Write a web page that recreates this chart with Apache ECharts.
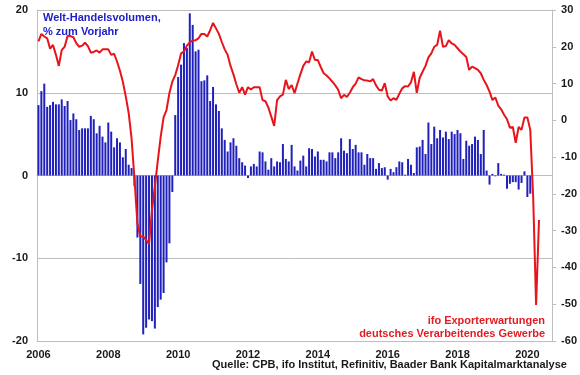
<!DOCTYPE html>
<html>
<head>
<meta charset="utf-8">
<script src="https://cdn.jsdelivr.net/npm/echarts@6/dist/echarts.min.js"></script>
<style>
  html, body { margin: 0; padding: 0; background: #fff; }
  #chart { width: 580px; height: 375px; }
</style>
</head>
<body>
<div id="chart"></div>
<script>
// monthly axis, Jan 2006 .. Sep 2020
const startYear = 2006;
const monthCount = 177;
const yearLabels = ['2006', '2008', '2010', '2012', '2014', '2016', '2018', '2020'];

// CPB world trade volume, % yoy (left axis), Jan 2006 ..
const tradeVolume = [
    8.5, 10.2, 11.1, 8.3, 8.5, 8.9, 8.6, 8.6, 9.2, 8.4, 9.0, 6.7,
    7.5, 6.8, 5.5, 5.7, 5.7, 5.7, 7.2, 6.8, 5.1, 6.0, 4.7, 4.0,
    6.4, 5.3, 3.4, 4.5, 4.0, 2.2, 3.2, 1.3, 0.9, -1.3, -7.5, -13.1,
    -19.2, -18.4, -17.4, -17.6, -18.5, -15.9, -15.0, -14.2, -10.5, -8.2, -2.0, 7.3,
    11.9, 13.4, 16.0, 15.4, 19.6, 18.2, 15.0, 15.2, 11.4, 11.5, 12.1, 9.0,
    10.7, 8.6, 7.8, 5.7, 4.3, 2.9, 4.0, 4.5, 3.6, 2.1, 1.6, 1.2,
    -0.3, 1.1, 1.4, 1.1, 2.9, 2.8, 1.7, 0.7, 2.1, 1.1, 1.7, 1.6,
    3.8, 2.0, 1.7, 3.7, 1.1, 0.6, 1.8, 2.4, 1.1, 3.3, 3.2, 2.3,
    2.9, 1.9, 1.9, 1.7, 2.8, 2.8, 2.1, 2.8, 4.5, 3.0, 2.7, 4.4,
    3.2, 3.7, 2.8, 2.8, 1.3, 2.6, 2.1, 2.1, 0.8, 1.5, 0.9, 1.0,
    -0.5, 0.8, 0.4, 1.0, 1.7, 1.6, 0.1, 2.0, 1.3, 0.3, 3.4, 3.5,
    4.3, 2.6, 6.4, 3.8, 5.9, 4.5, 5.5, 4.6, 5.3, 4.4, 5.3, 5.0,
    5.5, 5.1, 2.0, 4.2, 3.6, 3.8, 4.7, 4.3, 2.6, 5.5, 0.6, -1.1,
    0.2, -0.1, 1.5, 0.2, 0.1, -1.6, -1.0, -0.8, -0.8, -1.7, -0.9, 0.5,
    -2.6, -2.2
];

// ifo export expectations, manufacturing (right axis), Jan 2006 ..
const ifoExport = [
    21.5, 23.5, 22.8, 22.3, 19.5, 20.5, 17.8, 14.8, 19.1, 20.0, 22.9, 22.9,
    22.6, 21.0, 20.0, 20.3, 21.1, 20.2, 18.4, 18.6, 19.0, 18.4, 19.3, 19.3,
    19.3, 17.8, 18.1, 16.0, 13.5, 10.5, 6.5, 2.0, -5.0, -16.0, -28.0, -31.6,
    -31.6, -32.5, -33.6, -24.5, -18.0, -11.0, -4.5, 0.8, 2.8, 7.4, 10.5, 12.3,
    15.0, 18.2, 18.7, 20.3, 21.2, 21.7, 21.8, 22.3, 23.5, 23.5, 22.8, 24.5,
    26.5, 25.0, 23.5, 21.3, 19.3, 17.8, 14.8, 12.5, 9.8, 7.5, 9.0, 7.0,
    9.0, 8.4, 9.0, 9.0, 9.0, 5.5, 5.2, 3.5, 1.0, -1.5, 5.5, 6.5,
    7.0, 11.0, 8.5, 9.6, 7.4, 10.0, 12.5, 14.8, 16.0, 15.8, 18.7, 16.4,
    16.4, 14.5, 12.8, 12.2, 11.4, 10.5, 9.5, 8.3, 6.0, 6.9, 6.4, 7.5,
    9.0, 10.0, 11.7, 11.2, 10.9, 10.8, 10.6, 11.2, 9.5, 8.3, 8.1, 10.1,
    6.5, 5.4, 6.0, 5.6, 7.2, 8.7, 9.3, 9.2, 10.3, 13.2, 7.5, 11.5,
    13.2, 14.8, 17.1, 18.2, 20.0, 20.5, 24.4, 20.0, 20.2, 21.8, 20.9, 20.5,
    19.6, 18.7, 18.0, 17.2, 13.7, 14.6, 14.2, 13.7, 12.8, 11.0, 9.6, 7.8,
    5.5, 6.2, 4.0, 3.0, 1.5, 0.3, -2.0, -1.8, -6.1, -1.8, -2.6, 0.8,
    0.8, -2.6, -21.0, -50.2, -27.1
];

const months = [];
for (let i = 0; i < monthCount; i++) {
    const y = startYear + Math.floor(i / 12);
    const m = (i % 12) + 1;
    months.push(y + '-' + (m < 10 ? '0' + m : m));
}

const font = 'Liberation Sans, Arial, sans-serif';
const grey = '#bdbdbd';
const axisText = { color: '#1a1a1a', fontSize: 11, fontWeight: 'bold', fontFamily: font };

const chart = echarts.init(document.getElementById('chart'));

chart.setOption({
    animation: false,
    backgroundColor: '#fff',
    grid: { left: 37, right: 27, top: 10, bottom: 34 },
    title: [
        {
            text: 'Welt-Handelsvolumen,\n% zum Vorjahr',
            left: 38, top: 6,
            textStyle: { color: '#2020c8', fontSize: 11, fontWeight: 'bold', fontFamily: font, lineHeight: 14 }
        },
        {
            text: 'Quelle: CPB, ifo Institut, Refinitiv, Baader Bank Kapitalmarktanalyse',
            left: 207, top: 354,
            textStyle: { color: '#1a1a1a', fontSize: 11, fontWeight: 'bold', fontFamily: font }
        }
    ],
    graphic: [
        {
            type: 'text',
            x: 545,
            y: 314,
            z: 10,
            style: {
                text: 'ifo Exporterwartungen\ndeutsches Verarbeitendes Gewerbe',
                align: 'right',
                verticalAlign: 'top',
                fill: '#e31b23',
                font: 'bold 11px ' + font,
                lineHeight: 13
            }
        }
    ],
    xAxis: [
        {
            type: 'category',
            data: months,
            position: 'bottom',
            axisLine: { onZero: false, lineStyle: { color: grey } },
            axisTick: { show: false },
            axisLabel: Object.assign({
                interval: 23,
                margin: 8,
                formatter: (v) => {
                    const y = v.slice(0, 4);
                    return yearLabels.indexOf(y) >= 0 ? y : '';
                }
            }, axisText),
            splitLine: { show: false }
        },
        {
            type: 'category',
            data: months,
            position: 'top',
            axisLine: { onZero: true, onZeroAxisIndex: 0, lineStyle: { color: grey } },
            axisTick: { interval: 23, inside: true, length: 4, lineStyle: { color: grey } },
            axisLabel: { show: false },
            splitLine: { show: false }
        }
    ],
    yAxis: [
        {
            type: 'value',
            min: -20, max: 20, interval: 10,
            axisLine: { show: true, lineStyle: { color: grey } },
            axisTick: { show: false },
            axisLabel: Object.assign({ margin: 9 }, axisText),
            splitLine: { lineStyle: { color: grey } }
        },
        {
            type: 'value',
            position: 'right',
            min: -60, max: 30, interval: 10,
            axisLine: { show: true, lineStyle: { color: grey } },
            axisTick: { show: true, length: 4, lineStyle: { color: grey } },
            axisLabel: Object.assign({ margin: 9 }, axisText),
            splitLine: { show: false }
        }
    ],
    series: [
        {
            name: 'Welt-Handelsvolumen',
            type: 'bar',
            data: tradeVolume,
            xAxisIndex: 0,
            yAxisIndex: 0,
            barWidth: 2,
            itemStyle: { color: '#2020bd' }
        },
        {
            name: 'ifo Exporterwartungen',
            type: 'line',
            data: ifoExport,
            xAxisIndex: 0,
            yAxisIndex: 1,
            symbol: 'none',
            lineStyle: { color: '#e8141c', width: 2 },
            z: 3
        }
    ]
});
</script>
</body>
</html>
